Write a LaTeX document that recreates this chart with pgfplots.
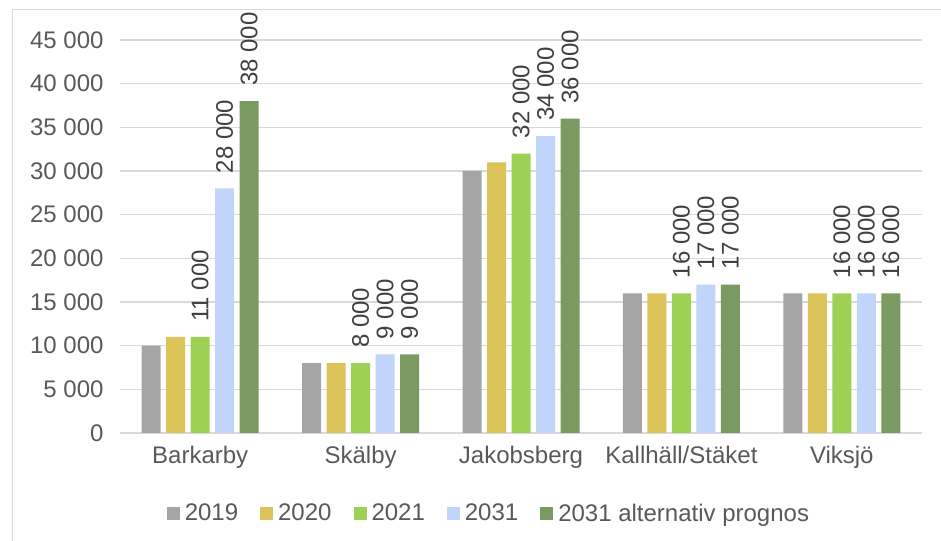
\documentclass[border=0pt]{standalone}
\usepackage{pgfplots}
\pgfplotsset{compat=1.18}
\usepackage{fontspec}
\setmainfont{Liberation Sans}

\definecolor{cA}{HTML}{A5A5A5}
\definecolor{cB}{HTML}{DCC35A}
\definecolor{cC}{HTML}{9DD156}
\definecolor{cD}{HTML}{C1D4FA}
\definecolor{cE}{HTML}{799A61}
\definecolor{gridc}{HTML}{D9D9D9}
\definecolor{txt}{HTML}{595959}
\definecolor{lbl}{HTML}{404040}

\newcommand{\chartfont}{\fontsize{24bp}{28bp}\selectfont}

\pgfplotsset{/pgf/number format/.cd, fixed, precision=0, 1000 sep={\ }, assume math mode=true}

\begin{document}
\begin{tikzpicture}
\path[use as bounding box] (0bp,0bp) rectangle (941bp,541bp);
\draw[gridc, line width=1bp] (12bp,-5bp) -- (12bp,531bp) -- (950bp,531bp);
\begin{axis}[
    at={(120bp,108bp)}, anchor=south west,
    scale only axis, width=802bp, height=393bp,
    ybar=5.5bp, bar width=19bp,
    xmin=-0.5, xmax=4.5, ymin=0, ymax=45000,
    xtick=data,
    xticklabels={Barkarby,Skälby,Jakobsberg,Kallhäll/Stäket,Viksjö},
    ytick={0,5000,...,45000},
    scaled y ticks=false,
    ymajorgrids, grid style={gridc, line width=1.5bp},
    axis x line*=bottom, axis y line*=left,
    x axis line style={gridc, line width=1.5bp, -},
    y axis line style={draw=none},
    major tick length=0pt,
    tick label style={font=\chartfont, text=txt},
    xticklabel style={yshift=-10bp},
    yticklabel style={xshift=-13bp},
    clip=false,
    every node near coord/.append style={rotate=90, anchor=west, font=\chartfont, text=lbl, inner xsep=15bp},
    legend columns=5,
    legend style={at={(0.46,-0.204)}, anchor=center, draw=none, fill=none,
        font=\chartfont, text=txt,
        /tikz/every even column/.append style={column sep=20bp},
        /tikz/every odd column/.append style={column sep=3bp}},
    legend image code/.code={\fill[#1, draw=none] (0bp,-6.5bp) rectangle (13bp,6.5bp);},
]
\addplot[fill=cA, draw=none] coordinates {(0,10000) (1,8000) (2,30000) (3,16000) (4,16000)};
\addlegendentry{2019}
\addplot[fill=cB, draw=none] coordinates {(0,11000) (1,8000) (2,31000) (3,16000) (4,16000)};
\addlegendentry{2020}
\addplot[fill=cC, draw=none, nodes near coords] coordinates {(0,11000) (1,8000) (2,32000) (3,16000) (4,16000)};
\addlegendentry{2021}
\addplot[fill=cD, draw=none, nodes near coords] coordinates {(0,28000) (1,9000) (2,34000) (3,17000) (4,16000)};
\addlegendentry{2031}
\addplot[fill=cE, draw=none, nodes near coords] coordinates {(0,38000) (1,9000) (2,36000) (3,17000) (4,16000)};
\addlegendentry{2031 alternativ prognos}
\end{axis}
\end{tikzpicture}
\end{document}
